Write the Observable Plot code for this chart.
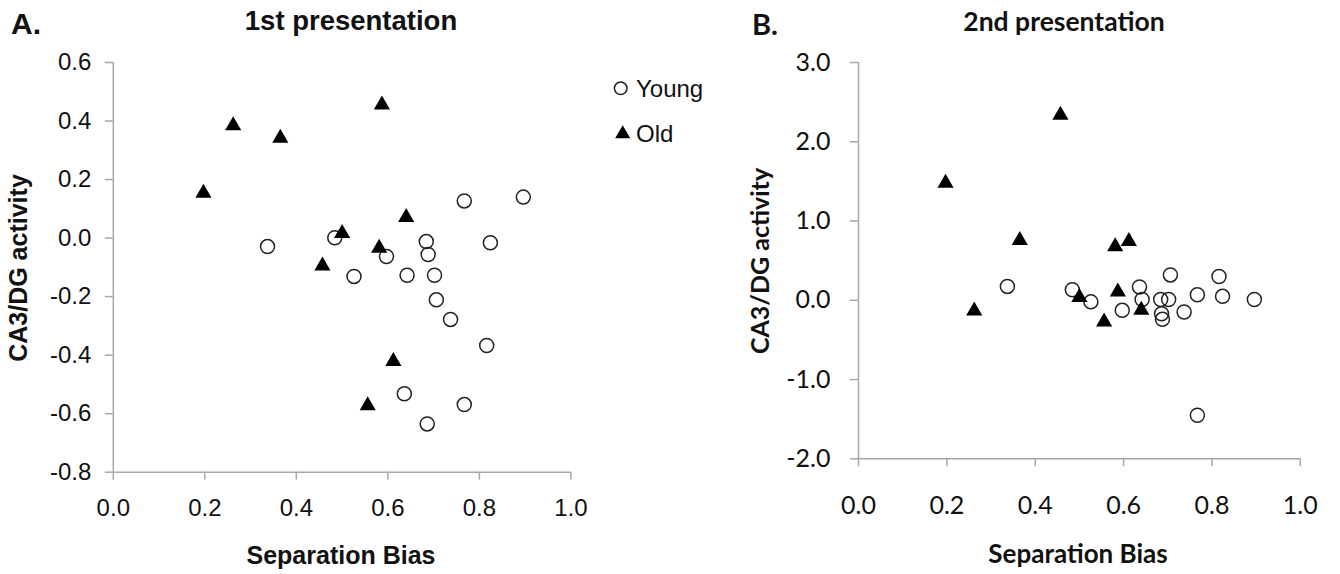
<!DOCTYPE html>
<html>
<head>
<meta charset="utf-8">
<script src="https://cdn.jsdelivr.net/npm/d3@7"></script>
<script src="https://cdn.jsdelivr.net/npm/@observablehq/plot@0.6"></script>
<style>
  html, body { margin: 0; padding: 0; background: #fff; }
  #fig { position: relative; width: 1340px; height: 574px; overflow: hidden; color: #111; }
  .panel { position: absolute; top: 0; }
  .t { position: absolute; transform: translate(-50%, -50%); white-space: nowrap; line-height: 1; }
  .arial { font-family: "Liberation Sans", Arial, sans-serif; }
  .cal { font-family: Lato, "Open Sans", sans-serif; }
  .b { font-weight: bold; }
  .rot { transform: translate(-50%, -50%) rotate(-90deg); }
</style>
</head>
<body>
<div id="fig"></div>
<script>
// ---------- data ----------
const xTicks = [0, 0.2, 0.4, 0.6, 0.8, 1.0];
const yTicksA = [-0.8, -0.6, -0.4, -0.2, 0, 0.2, 0.4, 0.6];
const yTicksB = [-2, -1, 0, 1, 2, 3];

// Young subjects: separation bias and CA3/DG activity (1st / 2nd presentation)
const youngX = [0.337, 0.484, 0.526, 0.597, 0.636, 0.642, 0.684, 0.686, 0.688, 0.702, 0.706, 0.737, 0.767, 0.767, 0.816, 0.824, 0.896];
const youngA = [-0.029, 0.001, -0.131, -0.063, -0.532, -0.127, -0.012, -0.635, -0.056, -0.127, -0.211, -0.278, 0.127, -0.569, -0.367, -0.016, 0.140];
const youngB = [0.175, 0.133, -0.02, -0.127, 0.167, 0.01, 0.01, -0.17, -0.24, 0.01, 0.32, -0.148, 0.07, -1.45, 0.30, 0.05, 0.01];

// Old subjects
const oldX = [0.197, 0.262, 0.365, 0.457, 0.500, 0.556, 0.581, 0.587, 0.612, 0.640];
const oldA = [0.157, 0.388, 0.345, -0.091, 0.020, -0.569, -0.031, 0.459, -0.418, 0.074];
const oldB = [1.49, -0.12, 0.77, 2.35, 0.05, -0.26, 0.69, 0.12, 0.755, -0.11];

const groups = ["Young", "Old"];

// ---------- build ----------
const fig = document.getElementById("fig");
const axisGray = "#a8a8a8";
const fmt = d => d.toFixed(1);

function panel({left, width, mL, mR, mT, mB, yDomain, yTicks, font, fontSize, xPad, yPad, ys, os}) {
  const young = youngX.map((x, i) => ({x, y: ys[i]}));
  const old = oldX.map((x, i) => ({x, y: os[i]}));
  const p = Plot.plot({
    width, height: 574,
    marginLeft: mL, marginRight: mR, marginTop: mT, marginBottom: mB,
    x: {domain: [0, 1]},
    y: {domain: yDomain},
    style: {fontFamily: font, fontSize: fontSize + "px", background: "transparent", color: "#111", overflow: "visible"},
    marks: [
      Plot.ruleX([0], {stroke: axisGray, strokeWidth: 1.5}),
      Plot.ruleY([yDomain[0]], {stroke: axisGray, strokeWidth: 1.5}),
      Plot.axisX({ticks: xTicks, tickSize: 8, tickPadding: xPad, tickFormat: fmt, stroke: axisGray, strokeWidth: 1.5, fill: "#111", label: null}),
      Plot.axisY({ticks: yTicks, tickSize: 8, tickPadding: yPad, tickFormat: fmt, stroke: axisGray, strokeWidth: 1.5, fill: "#111", label: null}),
      Plot.dot(young, {x: "x", y: "y", symbol: "circle", r: 7, fill: "none", stroke: "#222", strokeWidth: 1.5}),
      Plot.dot(old, {x: "x", y: "y", symbol: "triangle", r: 6, fill: "#000", stroke: "none", dy: 1})
    ]
  });
  p.classList.add("panel");
  p.style.left = left + "px";
  fig.appendChild(p);
}

panel({left: 0, width: 670, mL: 112.8, mR: 99.6, mT: 62, mB: 102.3, yDomain: [-0.8, 0.6], yTicks: yTicksA,
       font: "'Liberation Sans', Arial, sans-serif", fontSize: 24, xPad: 19, yPad: 14, ys: youngA, os: oldA});
panel({left: 670, width: 670, mL: 188, mR: 40.2, mT: 62, mB: 115.7, yDomain: [-2, 3], yTicks: yTicksB,
       font: "Lato, 'Open Sans', sans-serif", fontSize: 25, xPad: 29, yPad: 20, ys: youngB, os: oldB});

function label(text, cls, x, y, size) {
  const d = document.createElement("div");
  d.className = "t " + cls;
  d.textContent = text;
  d.style.left = x + "px";
  d.style.top = y + "px";
  d.style.fontSize = size + "px";
  fig.appendChild(d);
}

label("A.", "arial b", 26, 24, 30);
label("1st presentation", "arial b", 351, 21, 27.5);
label("Separation Bias", "arial b", 341, 555, 25);
label("CA3/DG activity", "arial b rot", 18, 268, 25);

label("B.", "cal b", 765, 23, 29);
label("2nd presentation", "cal b", 1064, 21, 26.5);
label("Separation Bias", "cal b", 1078, 553, 26);
label("CA3/DG activity", "cal b rot", 759, 261, 25);

// legend
const ns = "http://www.w3.org/2000/svg";
const lg = document.createElementNS(ns, "svg");
lg.setAttribute("width", 30); lg.setAttribute("height", 70);
lg.style.position = "absolute"; lg.style.left = "606px"; lg.style.top = "74px";
const c = document.createElementNS(ns, "circle");
c.setAttribute("cx", 14.7); c.setAttribute("cy", 14.3); c.setAttribute("r", 6.3);
c.setAttribute("fill", "none"); c.setAttribute("stroke", "#222"); c.setAttribute("stroke-width", 1.5);
lg.appendChild(c);
const tri = document.createElementNS(ns, "path");
tri.setAttribute("d", d3.symbol(d3.symbolTriangle, Math.PI * 5.6 * 5.6)());
tri.setAttribute("transform", "translate(16.7,60)");
lg.appendChild(tri);
fig.appendChild(lg);
groups.forEach((g, i) => {
  const d = document.createElement("div");
  d.className = "arial";
  d.textContent = g;
  d.style.position = "absolute";
  d.style.left = "636px";
  d.style.top = (i === 0 ? 89 : 134) + "px";
  d.style.transform = "translateY(-50%)";
  d.style.fontSize = "24px";
  d.style.lineHeight = "1";
  fig.appendChild(d);
});
</script>
</body>
</html>
